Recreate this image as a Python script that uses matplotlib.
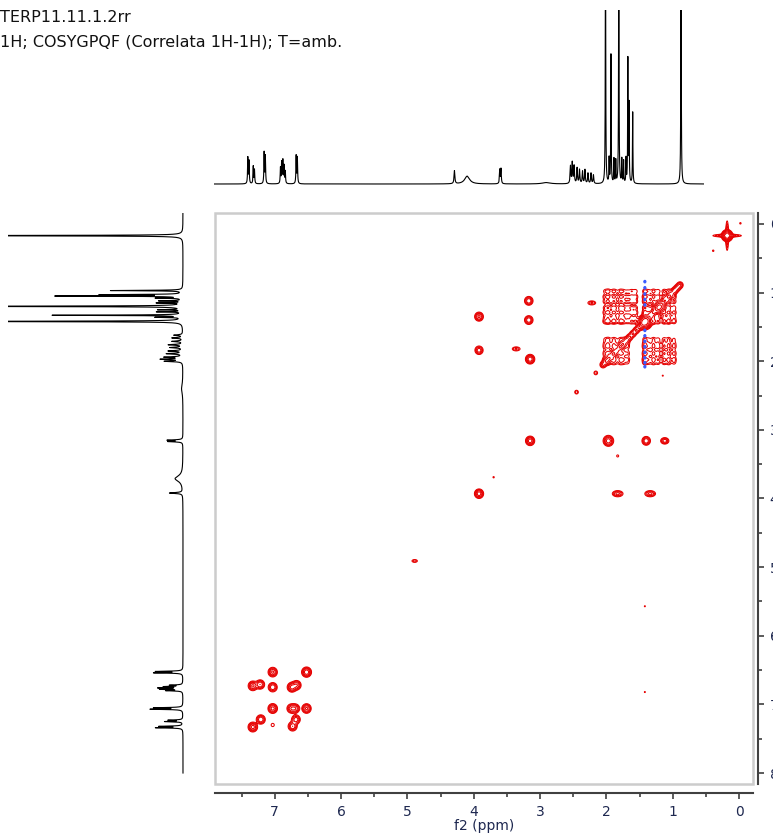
import numpy as np
import matplotlib.pyplot as plt
from matplotlib.patches import Rectangle
from matplotlib.ticker import MultipleLocator

# 1H spectrum peaks: ppm, height (1 = top of strip), half width
h_ppm = [7.34, 7.32, 7.25, 7.23, 7.07, 7.05, 6.80, 6.78, 6.76, 6.74, 6.72, 6.54, 6.52,
         3.92, 3.71, 3.17, 3.15, 2.40,
         2.00, 1.97, 1.94, 1.89, 1.85, 1.80, 1.76, 1.71, 1.66, 1.62,
         1.42, 1.36, 1.33, 1.28, 1.25, 1.20, 1.15, 1.12, 1.08, 1.05, 1.03, 0.97, 0.17]
h_int = [0.15, 0.13, 0.10, 0.08, 0.18, 0.16, 0.09, 0.12, 0.13, 0.10, 0.07, 0.16, 0.15,
         0.075, 0.045, 0.08, 0.085, 0.008,
         0.10, 0.12, 0.10, 0.09, 0.08, 0.07, 0.08, 0.06, 0.06, 0.05,
         1.6, 0.14, 0.74, 0.14, 0.13, 1.6, 0.14, 0.13, 0.14, 0.71, 0.45, 0.41, 1.6]
h_wid = [0.005] * 13 + [0.008, 0.05, 0.006, 0.006, 0.08] + [0.007] * 10 + [0.004] * 13

# COSY cross / diagonal peaks: f2, f1, amplitude, width f2, width f1
pk_f2 = [7.03, 6.52, 7.33, 7.22, 7.03, 6.74, 6.67, 7.03, 6.75, 6.69, 6.52, 7.21, 6.68, 7.33, 6.73, 7.03,
         3.92, 3.92, 3.92, 3.17, 3.17, 3.15, 3.15, 3.36, 2.22, 1.97, 1.83, 1.40, 1.34, 1.12,
         1.83, 3.70, 2.16, 2.45, 4.89, 1.15, 1.42, 1.42, 0.18, 0.18, 0.18, -0.02, 0.39,
         1.42, 1.20]
pk_f1 = [6.53, 6.53, 6.73, 6.71, 6.75, 6.75, 6.72, 7.06, 7.06, 7.06, 7.06, 7.22, 7.22, 7.33, 7.32, 7.30,
         1.35, 1.84, 3.93, 1.12, 1.40, 1.97, 3.16, 1.82, 1.15, 3.16, 3.93, 3.16, 3.93, 3.16,
         3.38, 3.69, 2.17, 2.45, 4.91, 2.21, 5.57, 6.82, 0.17, 0.17, 0.17, -0.01, 0.39,
         1.43, 1.21]
pk_amp = [0.9, 1.2, 0.9, 0.8, 0.8, 1.0, 0.8, 1.0, 0.7, 0.7, 0.9, 0.8, 0.7, 1.0, 0.8, 0.15,
          0.9, 0.7, 1.1, 0.8, 0.8, 1.2, 1.1, 0.35, 0.35, 1.1, 0.6, 0.8, 0.6, 0.7,
          0.2, 0.15, 0.3, 0.3, 0.3, 0.15, 0.15, 0.15, 3.0, 0.6, 0.6, 0.18, 0.18,
          3.0, 2.5]
pk_w2 = [0.035] * 16 + [0.033] * 7 + [0.04, 0.04, 0.038, 0.045, 0.033, 0.045, 0.033] + \
        [0.015, 0.015, 0.02, 0.02, 0.03, 0.012, 0.012, 0.012, 0.035, 0.12, 0.012, 0.012, 0.012] + [0.045, 0.04]
pk_w1 = [0.035] * 16 + [0.033] * 7 + [0.02, 0.02, 0.038, 0.025, 0.033, 0.025, 0.025] + \
        [0.015, 0.015, 0.02, 0.02, 0.015, 0.012, 0.012, 0.012, 0.035, 0.012, 0.12, 0.012, 0.012] + [0.045, 0.04]

# aliphatic cluster: two multiplet groups and their weights
grp_a = [2.02, 1.97, 1.90, 1.86, 1.79, 1.74, 1.68]
grp_a_w = [0.6, 0.9, 0.7, 0.5, 0.8, 0.6, 0.5]
grp_b = [1.42, 1.36, 1.29, 1.22, 1.13, 1.06, 0.98]
grp_b_w = [1.0, 0.6, 0.9, 0.7, 0.8, 0.9, 0.6]
grp_a_extra = [1.62, 1.56]

# diagonal ridge of the aliphatic cluster
diag_ppm = [2.05, 2.00, 1.95, 1.90, 1.85, 1.80, 1.75, 1.70, 1.65, 1.60, 1.55, 1.50, 1.46,
            1.38, 1.33, 1.28, 1.24, 1.16, 1.11, 1.06, 1.02, 0.97, 0.93, 0.89]

# negative (blue) t1 noise along the 1.42 singlet
neg_f1 = [0.84, 0.93, 1.02, 1.10, 1.18, 1.55, 1.63, 1.71, 1.79, 1.87, 1.95, 2.02, 2.08]

x_ppm = np.linspace(-0.3, 8.0, 8000)
spec = np.zeros_like(x_ppm)
for p, a, w in zip(h_ppm, h_int, h_wid):
    spec += a * w**2 / ((x_ppm - p)**2 + w**2)

g2 = np.linspace(-0.25, 7.95, 1400)
g1 = np.linspace(-0.2, 8.2, 1400)
Z = np.zeros((len(g1), len(g2)))
Zn = np.zeros((len(g1), len(g2)))


def gauss2d(x0, y0, a, sx, sy):
    return a * np.outer(np.exp(-(g1 - y0)**2 / (2 * sy**2)), np.exp(-(g2 - x0)**2 / (2 * sx**2)))


for x0, y0, a, sx, sy in zip(pk_f2, pk_f1, pk_amp, pk_w2, pk_w1):
    Z += gauss2d(x0, y0, a, sx, sy)

grp_all = grp_a + grp_b
grp_all_w = grp_a_w + grp_b_w
for i, x0 in enumerate(grp_all):
    for j, y0 in enumerate(grp_all):
        Z += gauss2d(x0, y0, 0.45 * grp_all_w[i] * grp_all_w[j], 0.026, 0.026)
for x0 in grp_a_extra:
    for j, y0 in enumerate(grp_b):
        Z += gauss2d(x0, y0, 0.3 * grp_b_w[j], 0.026, 0.026)
for d in diag_ppm:
    Z += gauss2d(d, d, 0.5, 0.028, 0.028)
for y0 in neg_f1:
    Zn += gauss2d(1.42, y0, 0.4, 0.01, 0.012)

fig = plt.figure(figsize=(7.73, 8.38), dpi=100)
W, H = 773.0, 838.0

ax = fig.add_axes([215 / W, 1 - 784 / H, 538 / W, 571 / H])
ax.contour(g2, g1, Z, levels=[0.12, 0.2, 0.32, 0.5, 0.8, 1.3, 2.1], colors='#e60000', linewidths=0.75)
ax.contour(g2, g1, Zn, levels=[0.12, 0.25], colors='#3a5cff', linewidths=0.8)
ax.set_xlim(7.90, -0.21)
ax.set_ylim(8.16, -0.16)
ax.add_patch(Rectangle((0, 0), 1, 1, transform=ax.transAxes, fill=False, ec='#cccccc', lw=1.8, clip_on=False))

for s in ['top', 'left']:
    ax.spines[s].set_visible(False)
ax.spines['bottom'].set_position(('outward', 6.5))
ax.spines['right'].set_position(('outward', 3.6))
for s in ['bottom', 'right']:
    ax.spines[s].set_color('#404040')
    ax.spines[s].set_linewidth(1.5)
ax.xaxis.set_major_locator(MultipleLocator(1))
ax.xaxis.set_minor_locator(MultipleLocator(0.5))
ax.yaxis.set_major_locator(MultipleLocator(1))
ax.yaxis.set_minor_locator(MultipleLocator(0.5))
ax.yaxis.tick_right()
ax.tick_params(which='both', colors='#404040', width=1.2, labelcolor='#1e2850', labelsize=10)
ax.tick_params(which='major', length=4.5, pad=4)
ax.tick_params(which='minor', length=3)
ax.set_xlabel('f2 (ppm)', fontsize=10, color='#1e2850', labelpad=0)

ax_top = fig.add_axes([214 / W, 1 - 188 / H, 490 / W, 178 / H])
ax_top.plot(x_ppm, spec, color='black', lw=0.8)
ax_top.set_xlim(7.90, -0.21)
ax_top.set_ylim(-0.023, 1.0)
ax_top.axis('off')

ax_left = fig.add_axes([8 / W, 1 - 784 / H, 182 / W, 571 / H])
ax_left.plot(spec, x_ppm, color='black', lw=0.8)
ax_left.set_xlim(1.0, -0.04)
ax_left.set_ylim(8.16, -0.16)
ax_left.axis('off')

fig.text(0.0, 1 - 18 / H, 'TERP11.11.1.2rr', fontsize=11.5, va='center', ha='left', color='#111111')
fig.text(0.0, 1 - 42 / H, '1H; COSYGPQF (Correlata 1H-1H); T=amb.', fontsize=11.5, va='center', ha='left', color='#111111')

fig.savefig('out.png', dpi=100)
